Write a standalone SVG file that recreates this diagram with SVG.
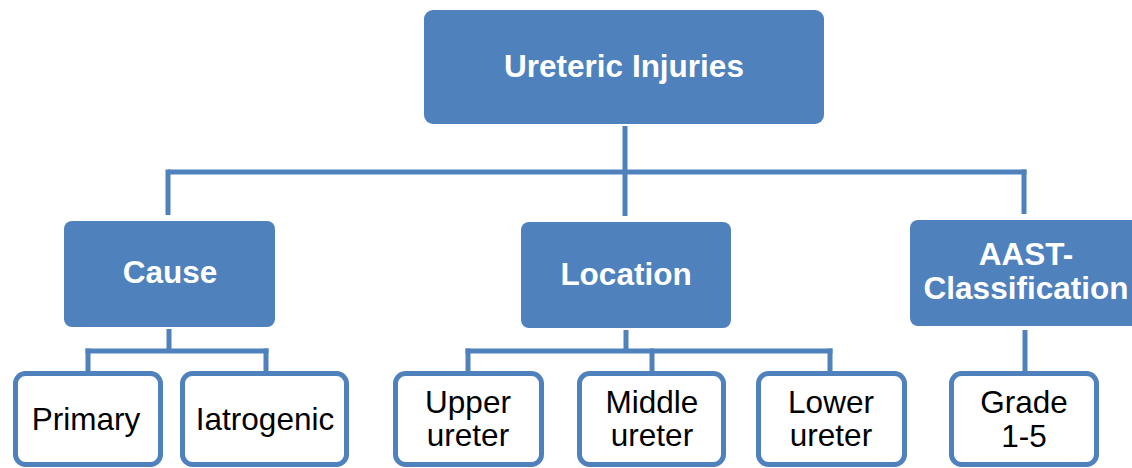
<svg xmlns="http://www.w3.org/2000/svg" width="1132" height="468" viewBox="0 0 1132 468">
<style>
.head{fill:#4F81BD}
.leaf{fill:#FFFFFF;stroke:#4F81BD;stroke-width:5}
.ht{font-family:"Liberation Sans",Arial,sans-serif;font-weight:bold;font-size:31.5px;fill:#FFFFFF;text-anchor:middle}
.lt{font-family:"Liberation Sans",Arial,sans-serif;font-size:31.5px;fill:#000000;text-anchor:middle}
.con{stroke:#4F81BD;stroke-width:5;fill:none}
</style>
<rect width="1132" height="468" fill="#FFFFFF"/>
<g id="connectors">
<line class="con" x1="625" y1="126" x2="625" y2="216"/>
<line class="con" x1="168" y1="172" x2="1026.5" y2="172"/>
<line class="con" x1="168" y1="169.5" x2="168" y2="215"/>
<line class="con" x1="1024" y1="169.5" x2="1024" y2="214"/>
<line class="con" x1="169" y1="329" x2="169" y2="353"/>
<line class="con" x1="85.5" y1="351" x2="268.5" y2="351"/>
<line class="con" x1="88" y1="348.5" x2="88" y2="372"/>
<line class="con" x1="266" y1="348.5" x2="266" y2="372"/>
<line class="con" x1="626" y1="330" x2="626" y2="353"/>
<line class="con" x1="465.5" y1="351" x2="832.5" y2="351"/>
<line class="con" x1="468" y1="348.5" x2="468" y2="372"/>
<line class="con" x1="652" y1="348.5" x2="652" y2="372"/>
<line class="con" x1="830" y1="348.5" x2="830" y2="372"/>
<line class="con" x1="1025" y1="330" x2="1025" y2="372"/>
</g>
<g id="ureteric-injuries">
<rect class="head" x="424" y="10" width="400" height="114" rx="9"/>
<text class="ht" x="624" y="77" font-size="32.5">Ureteric Injuries</text>
</g>
<g id="cause">
<rect class="head" x="64" y="221" width="211" height="106" rx="8"/>
<text class="ht" x="170" y="283">Cause</text>
</g>
<g id="location">
<rect class="head" x="521" y="222" width="210" height="106" rx="8"/>
<text class="ht" x="626" y="285">Location</text>
</g>
<g id="aast">
<rect class="head" x="910" y="220" width="232" height="106" rx="8"/>
<text class="ht" x="1026" y="265">AAST-</text>
<text class="ht" x="1026" y="299">Classification</text>
</g>
<g id="primary">
<rect class="leaf" x="15.5" y="373.5" width="145" height="91" rx="10"/>
<text class="lt" x="86" y="430">Primary</text>
</g>
<g id="iatrogenic">
<rect class="leaf" x="182.5" y="373.5" width="164" height="91" rx="10"/>
<text class="lt" x="265" y="430">Iatrogenic</text>
</g>
<g id="upper">
<rect class="leaf" x="395.5" y="373.5" width="146" height="91" rx="10"/>
<text class="lt" x="468" y="413">Upper</text>
<text class="lt" x="468" y="446">ureter</text>
</g>
<g id="middle">
<rect class="leaf" x="579.5" y="373.5" width="144" height="91" rx="10"/>
<text class="lt" x="652" y="413">Middle</text>
<text class="lt" x="652" y="446">ureter</text>
</g>
<g id="lower">
<rect class="leaf" x="758.5" y="373.5" width="146" height="91" rx="10"/>
<text class="lt" x="831" y="413">Lower</text>
<text class="lt" x="831" y="446">ureter</text>
</g>
<g id="grade">
<rect class="leaf" x="951.5" y="373.5" width="145" height="91" rx="10"/>
<text class="lt" x="1024" y="413">Grade</text>
<text class="lt" x="1024" y="447">1-5</text>
</g>
</svg>
